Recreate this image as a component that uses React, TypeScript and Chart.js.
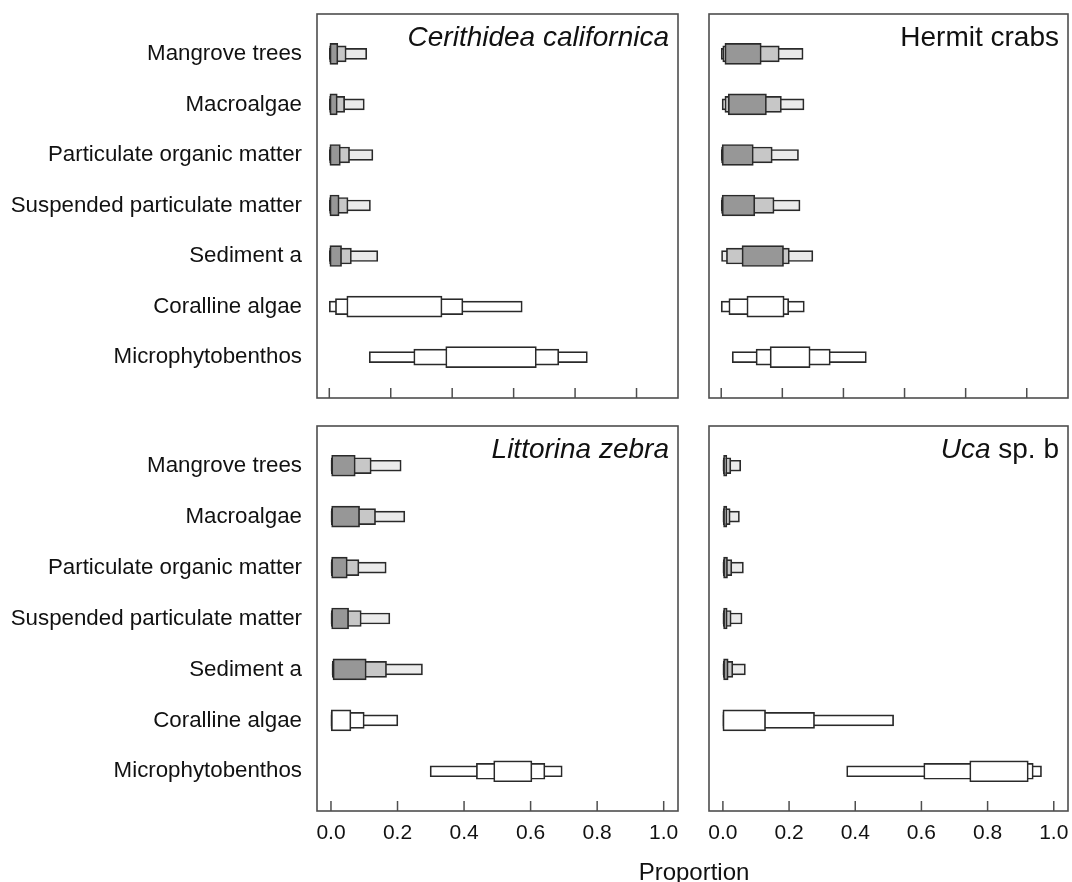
import React, { useEffect, useRef } from "react";
import { Chart, registerables } from "chart.js";

Chart.register(...registerables);

const FONT = '"Liberation Sans", Arial, Helvetica, sans-serif';

// ---- categories / ticks ----
const sources = [
  "Mangrove trees",
  "Macroalgae",
  "Particulate organic matter",
  "Suspended particulate matter",
  "Sediment a",
  "Coralline algae",
  "Microphytobenthos",
];
const shaded = [true, true, true, true, true, false, false];
const xTickValues = [0, 0.2, 0.4, 0.6, 0.8, 1.0];

// ---- Cerithidea californica (credible intervals 95 / 75 / 50 %) ----
const ceriLo95 = [0, 0, 0, 0, 0, 0.0, 0.13];
const ceriLo75 = [0.001, 0.001, 0.001, 0.001, 0.001, 0.02, 0.275];
const ceriLo50 = [0.002, 0.002, 0.002, 0.002, 0.002, 0.057, 0.379];
const ceriHi50 = [0.028, 0.026, 0.036, 0.032, 0.04, 0.367, 0.674];
const ceriHi75 = [0.055, 0.05, 0.066, 0.061, 0.072, 0.435, 0.747];
const ceriHi95 = [0.122, 0.114, 0.142, 0.134, 0.158, 0.628, 0.84];

// ---- Hermit crabs ----
const hermLo95 = [0, 0.003, 0, 0, 0.001, 0.0, 0.036];
const hermLo75 = [0.005, 0.012, 0.001, 0.001, 0.017, 0.025, 0.114];
const hermLo50 = [0.012, 0.023, 0.003, 0.003, 0.068, 0.084, 0.16];
const hermHi50 = [0.131, 0.148, 0.105, 0.11, 0.204, 0.206, 0.291];
const hermHi75 = [0.19, 0.197, 0.167, 0.173, 0.223, 0.221, 0.357];
const hermHi95 = [0.268, 0.271, 0.253, 0.258, 0.3, 0.272, 0.475];

// ---- Littorina zebra ----
const littLo95 = [0, 0, 0, 0, 0.003, 0, 0.298];
const littLo75 = [0.001, 0.001, 0.001, 0.001, 0.004, 0.0, 0.437];
const littLo50 = [0.002, 0.002, 0.002, 0.002, 0.006, 0.001, 0.489];
const littHi50 = [0.073, 0.086, 0.049, 0.053, 0.106, 0.06, 0.604];
const littHi75 = [0.121, 0.134, 0.084, 0.091, 0.167, 0.1, 0.643];
const littHi95 = [0.211, 0.222, 0.166, 0.177, 0.275, 0.201, 0.695];

// ---- Uca sp. b ----
const ucaLo95 = [0, 0, 0, 0, 0, 0, 0.374];
const ucaLo75 = [0.001, 0.001, 0.001, 0.001, 0.001, 0.0, 0.607];
const ucaLo50 = [0.002, 0.002, 0.002, 0.002, 0.002, 0.0, 0.746];
const ucaHi50 = [0.012, 0.012, 0.014, 0.013, 0.016, 0.129, 0.923];
const ucaHi75 = [0.024, 0.022, 0.027, 0.025, 0.03, 0.277, 0.938];
const ucaHi95 = [0.054, 0.05, 0.062, 0.058, 0.068, 0.516, 0.963];

type TitlePart = { text: string; italic: boolean };

type PanelSpec = {
  id: string;
  title: TitlePart[];
  lo95: number[];
  lo75: number[];
  lo50: number[];
  hi50: number[];
  hi75: number[];
  hi95: number[];
  left: number;
  top: number;
  w: number;
  h: number;
  showY: boolean;
  showX: boolean;
  xMin: number;
  xMax: number;
  yMin: number;
  yMax: number;
  pad: { left: number; right: number; top: number; bottom: number };
  yWidth: number;
  xHeight: number;
};

const panels: PanelSpec[] = [
  {
    id: "ceri",
    title: [{ text: "Cerithidea californica", italic: true }],
    lo95: ceriLo95, lo75: ceriLo75, lo50: ceriLo50, hi50: ceriHi50, hi75: ceriHi75, hi95: ceriHi95,
    left: 0, top: 0, w: 690, h: 410,
    showY: true, showX: false,
    xMin: -0.04, xMax: 1.135, yMin: -0.79, yMax: 6.81,
    pad: { left: 0, right: 12, top: 14, bottom: 12 },
    yWidth: 317, xHeight: 0,
  },
  {
    id: "herm",
    title: [{ text: "Hermit crabs", italic: false }],
    lo95: hermLo95, lo75: hermLo75, lo50: hermLo50, hi50: hermHi50, hi75: hermHi75, hi95: hermHi95,
    left: 690, top: 0, w: 382, h: 410,
    showY: false, showX: false,
    xMin: -0.04, xMax: 1.135, yMin: -0.79, yMax: 6.81,
    pad: { left: 19, right: 4, top: 14, bottom: 12 },
    yWidth: 0, xHeight: 0,
  },
  {
    id: "litt",
    title: [{ text: "Littorina zebra", italic: true }],
    lo95: littLo95, lo75: littLo75, lo50: littLo50, hi50: littHi50, hi75: littHi75, hi95: littHi95,
    left: 0, top: 410, w: 690, h: 472,
    showY: true, showX: true,
    xMin: -0.042, xMax: 1.043, yMin: -0.78, yMax: 6.78,
    pad: { left: 0, right: 12, top: 16, bottom: 21 },
    yWidth: 317, xHeight: 50,
  },
  {
    id: "uca",
    title: [
      { text: "Uca", italic: true },
      { text: " sp. b", italic: false },
    ],
    lo95: ucaLo95, lo75: ucaLo75, lo50: ucaLo50, hi50: ucaHi50, hi75: ucaHi75, hi95: ucaHi95,
    left: 690, top: 410, w: 382, h: 472,
    showY: false, showX: true,
    xMin: -0.042, xMax: 1.043, yMin: -0.78, yMax: 6.78,
    pad: { left: 19, right: 4, top: 16, bottom: 21 },
    yWidth: 0, xHeight: 50,
  },
];

const DARK = "#979797";
const MID = "#c7c7c7";
const LIGHT = "#ebebeb";
const WHITE = "#ffffff";
const EDGE = "#2a2a2a";
const FRAME = "#4e4e4e";
const TEXT = "#111111";

const framePlugin = {
  id: "panelFrame",
  afterDraw(chart: any, _args: any, opts: any) {
    const { ctx, chartArea: a, scales } = chart;
    const x = scales.x;
    ctx.save();
    ctx.strokeStyle = FRAME;
    ctx.lineWidth = 1.6;
    ctx.strokeRect(a.left, a.top, a.right - a.left, a.bottom - a.top);
    ctx.lineWidth = 1.5;
    for (const v of xTickValues) {
      const px = x.getPixelForValue(v);
      ctx.beginPath();
      ctx.moveTo(px, a.bottom);
      ctx.lineTo(px, a.bottom - 10);
      ctx.stroke();
    }
    const parts: TitlePart[] = opts.title || [];
    const fontFor = (p: TitlePart) => `${p.italic ? "italic " : ""}28px ${FONT}`;
    let total = 0;
    for (const p of parts) {
      ctx.font = fontFor(p);
      total += ctx.measureText(p.text).width;
    }
    let cx = a.right - 9 - total;
    const baseY = a.top + 32;
    ctx.fillStyle = TEXT;
    ctx.textBaseline = "alphabetic";
    ctx.textAlign = "left";
    for (const p of parts) {
      ctx.font = fontFor(p);
      ctx.fillText(p.text, cx, baseY);
      cx += ctx.measureText(p.text).width;
    }
    ctx.restore();
  },
};

function PanelChart({ p }: { p: PanelSpec }) {
  const ref = useRef<HTMLCanvasElement | null>(null);
  useEffect(() => {
    const canvas = ref.current;
    if (!canvas) return;
    const mk = (lo: number[], hi: number[]) =>
      sources.map((_, i) => ({ x: [lo[i], hi[i]], y: i }));
    const colors = (g: string) => shaded.map((s) => (s ? g : WHITE));
    const common = {
      grouped: false,
      borderColor: EDGE,
      borderWidth: 1.7,
      borderSkipped: false as const,
    };
    const chart = new Chart(canvas, {
      type: "bar",
      data: {
        datasets: [
          { label: "50%", data: mk(p.lo50, p.hi50) as any, barThickness: 21, backgroundColor: colors(DARK), ...common },
          { label: "75%", data: mk(p.lo75, p.hi75) as any, barThickness: 16, backgroundColor: colors(MID), ...common },
          { label: "95%", data: mk(p.lo95, p.hi95) as any, barThickness: 11, backgroundColor: colors(LIGHT), ...common },
        ],
      },
      options: {
        indexAxis: "y",
        animation: false,
        responsive: false,
        maintainAspectRatio: false,
        layout: { padding: p.pad },
        plugins: {
          legend: { display: false },
          tooltip: { enabled: false },
          title: { display: false },
          panelFrame: { title: p.title },
        } as any,
        scales: {
          x: {
            type: "linear",
            position: "bottom",
            min: p.xMin,
            max: p.xMax,
            grid: { display: false, drawTicks: false },
            border: { display: false },
            ticks: {
              display: p.showX,
              font: { family: FONT, size: 21 },
              color: TEXT,
              padding: 10,
              maxRotation: 0,
              autoSkip: false,
              callback: (v: any) => Number(v).toFixed(1),
            },
            afterBuildTicks: (s: any) => {
              s.ticks = xTickValues.map((v) => ({ value: v }));
            },
            afterFit: (s: any) => {
              s.height = p.xHeight;
              s.paddingLeft = 0;
              s.paddingRight = 0;
            },
          },
          y: {
            type: "linear",
            display: p.showY,
            reverse: true,
            offset: false,
            min: p.yMin,
            max: p.yMax,
            grid: { display: false, drawTicks: false },
            border: { display: false },
            ticks: {
              font: { family: FONT, size: 22.3 },
              color: TEXT,
              padding: 15,
              autoSkip: false,
              callback: (v: any) => sources[Number(v)] ?? "",
            },
            afterBuildTicks: (s: any) => {
              s.ticks = sources.map((_, i) => ({ value: i }));
            },
            afterFit: (s: any) => {
              s.width = p.yWidth;
              s.paddingTop = 0;
              s.paddingBottom = 0;
            },
          },
        } as any,
      },
      plugins: [framePlugin],
    });
    return () => chart.destroy();
  }, [p]);
  return (
    <canvas
      ref={ref}
      width={p.w}
      height={p.h}
      style={{ position: "absolute", left: p.left, top: p.top, width: p.w, height: p.h }}
    />
  );
}

export default function App() {
  return (
    <div
      style={{
        position: "absolute",
        left: 0,
        top: 0,
        width: 1072,
        height: 882,
        background: "#ffffff",
        overflow: "hidden",
        fontFamily: FONT,
      }}
    >
      {panels.map((p) => (
        <PanelChart key={p.id} p={p} />
      ))}
      <div
        style={{
          position: "absolute",
          left: 594,
          top: 860,
          width: 200,
          textAlign: "center",
          fontSize: 24,
          lineHeight: "24px",
          color: TEXT,
        }}
      >
        Proportion
      </div>
    </div>
  );
}
